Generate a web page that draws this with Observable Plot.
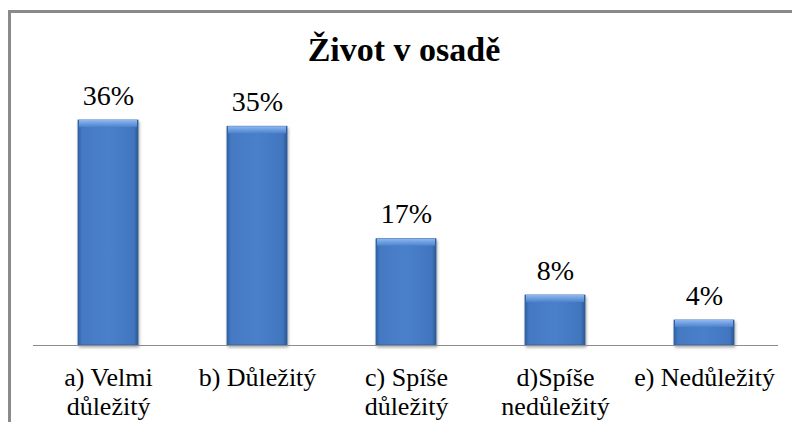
<!DOCTYPE html>
<html>
<head>
<meta charset="utf-8">
<script src="https://cdn.jsdelivr.net/npm/d3@7"></script>
<script src="https://cdn.jsdelivr.net/npm/@observablehq/plot@0.6"></script>
</head>
<body style="margin:0;padding:0;background:#fff">
<div id="wrap" style="position:relative;width:792px;height:422px">
  <div style="position:absolute;left:8px;top:10px;width:784px;height:412px;border-left:3px solid #8a8a8a;border-top:3px solid #8a8a8a;box-sizing:border-box"></div>
  <div id="chart" style="position:absolute;left:0;top:0"></div>
</div>
<script>
const title = "Život v osadě";
const categories = ["a) Velmi\ndůležitý", "b) Důležitý", "c) Spíše\ndůležitý", "d)Spíše\nnedůležitý", "e) Nedůležitý"];
const values = [36, 35, 17, 8, 4];
const valueLabels = ["36%", "35%", "17%", "8%", "4%"];

const data = categories.map((c, i) => ({category: c, value: values[i], label: valueLabels[i]}));

const fontSerif = "Liberation Serif";

const svg = Plot.plot({
  width: 792,
  height: 422,
  marginLeft: 33,
  marginRight: 14,
  marginTop: 95,
  marginBottom: 77,
  style: {fontFamily: fontSerif, background: "transparent"},
  x: {domain: categories, paddingInner: 0.6, paddingOuter: 0.3, label: null},
  y: {domain: [0, 40], axis: null},
  marks: [
    Plot.barY(data, {x: "category", y: "value", fill: "url(#barGrad)", stroke: "#2f5f9f", strokeWidth: 0.8}),
    Plot.barY(data, {x: "category", y1: "value", y2: "value", insetBottom: -7, insetLeft: 1, insetRight: 1, fill: "url(#bevelGrad)"}),
    Plot.ruleY([0], {stroke: "#8c8c8c", strokeWidth: 1.2}),
    Plot.text(data, {x: "category", y: "value", text: "label", lineAnchor: "bottom", dy: -16,
      fontSize: 28, fill: "#000", fontFamily: fontSerif}),
    Plot.axisX({tickSize: 0, tickPadding: 20, fontSize: 26, lineHeight: 1.12, fill: "#000",
      fontFamily: fontSerif, label: null})
  ]
});

const s = d3.select(svg);
const defs = s.insert("defs", ":first-child");
const g1 = defs.append("linearGradient").attr("id", "barGrad").attr("x1", 0).attr("x2", 1).attr("y1", 0).attr("y2", 0);
[[0, "#2f62a8"], [0.07, "#4579c2"], [0.5, "#4a80cb"], [0.93, "#4176bf"], [1, "#2a5896"]]
  .forEach(([o, c]) => g1.append("stop").attr("offset", o).attr("stop-color", c));
const g2 = defs.append("linearGradient").attr("id", "bevelGrad").attr("x1", 0).attr("x2", 0).attr("y1", 0).attr("y2", 1);
[[0, "#8fb8ee"], [0.5, "#6d9de0"], [1, "#4d83cc"]]
  .forEach(([o, c]) => g2.append("stop").attr("offset", o).attr("stop-color", c));

s.select("g[aria-label=bar]").style("filter", "drop-shadow(1px 2px 1.5px rgba(0,0,0,0.35))");

s.append("text")
  .attr("x", 404).attr("y", 61)
  .attr("text-anchor", "middle")
  .attr("font-family", fontSerif)
  .attr("font-weight", "bold")
  .attr("font-size", 34)
  .attr("fill", "#000")
  .text(title);

s.selectAll("text, tspan").each(function() {
  this.style.setProperty("font-family", "'Liberation Serif', serif", "important");
});

document.getElementById("chart").appendChild(svg);
</script>
</body>
</html>
